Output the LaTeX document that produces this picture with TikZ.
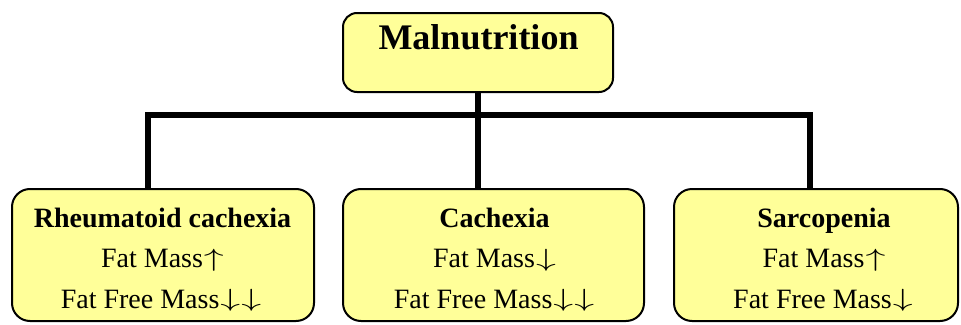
\documentclass[tikz,border=0pt]{standalone}
\usepackage{graphicx}
\usepackage{fontspec}
\setmainfont{Liberation Serif}
\newcommand{\upar}{\hspace{1pt}\raisebox{1.5pt}{\scalebox{1.6}[1]{\fontsize{23}{26}\selectfont$\uparrow$}}}
\newcommand{\dnar}{\hspace{1pt}\raisebox{1.5pt}{\scalebox{1.6}[1]{\fontsize{23}{26}\selectfont$\downarrow$}}}
\definecolor{boxfill}{HTML}{FFFF99}
\tikzset{
  topbox/.style={draw=black, line width=2pt, fill=boxfill, rounded corners=14pt, minimum width=270pt, minimum height=79pt, inner sep=0pt},
  leafbox/.style={draw=black, line width=2pt, fill=boxfill, rounded corners=18pt, minimum height=132pt, inner sep=0pt},
  conn/.style={draw=black, line width=6pt, line join=miter},
  bigtitle/.style={anchor=base, inner sep=0pt, font=\bfseries\fontsize{36}{40}\selectfont},
  leaftitle/.style={anchor=base, inner sep=0pt, font=\bfseries\fontsize{28}{32}\selectfont},
  leaftext/.style={anchor=base, inner sep=0pt, font=\fontsize{28}{32}\selectfont}
}
\begin{document}
\begin{tikzpicture}[x=1pt,y=-1pt]
\useasboundingbox (0,0) rectangle (961,324);
\coordinate (bar) at (478,114.5);
\node[topbox] (top) at (478,52.5) {};
\node[leafbox, minimum width=302pt] (b1) at (163,255) {};
\node[leafbox, minimum width=301pt] (b2) at (493.5,255) {};
\node[leafbox, minimum width=284pt] (b3) at (816,255) {};
\draw[conn] ([xshift=-15.5pt]b1.north) |- (bar) -| ([xshift=-6pt]b3.north);
\draw[conn] (top.south) -- (top.south |- b2.north);
% texts
\node[bigtitle] (t0) at (478.5,49) {Malnutrition};
\node[leaftitle] (t1a) at (162.5,227) {Rheumatoid cachexia};
\node[leaftext] (t1b) at (162.5,267.5) {Fat Mass\upar};
\node[leaftext] (t1c) at (161,308) {Fat Free Mass\dnar\dnar};
\node[leaftitle] (t2a) at (494.5,227) {Cachexia};
\node[leaftext] (t2b) at (494.5,267.5) {Fat Mass\dnar};
\node[leaftext] (t2c) at (494,308) {Fat Free Mass\dnar\dnar};
\node[leaftitle] (t3a) at (824,227) {Sarcopenia};
\node[leaftext] (t3b) at (824,267.5) {Fat Mass\upar};
\node[leaftext] (t3c) at (823,308) {Fat Free Mass\dnar};
\end{tikzpicture}
\end{document}
